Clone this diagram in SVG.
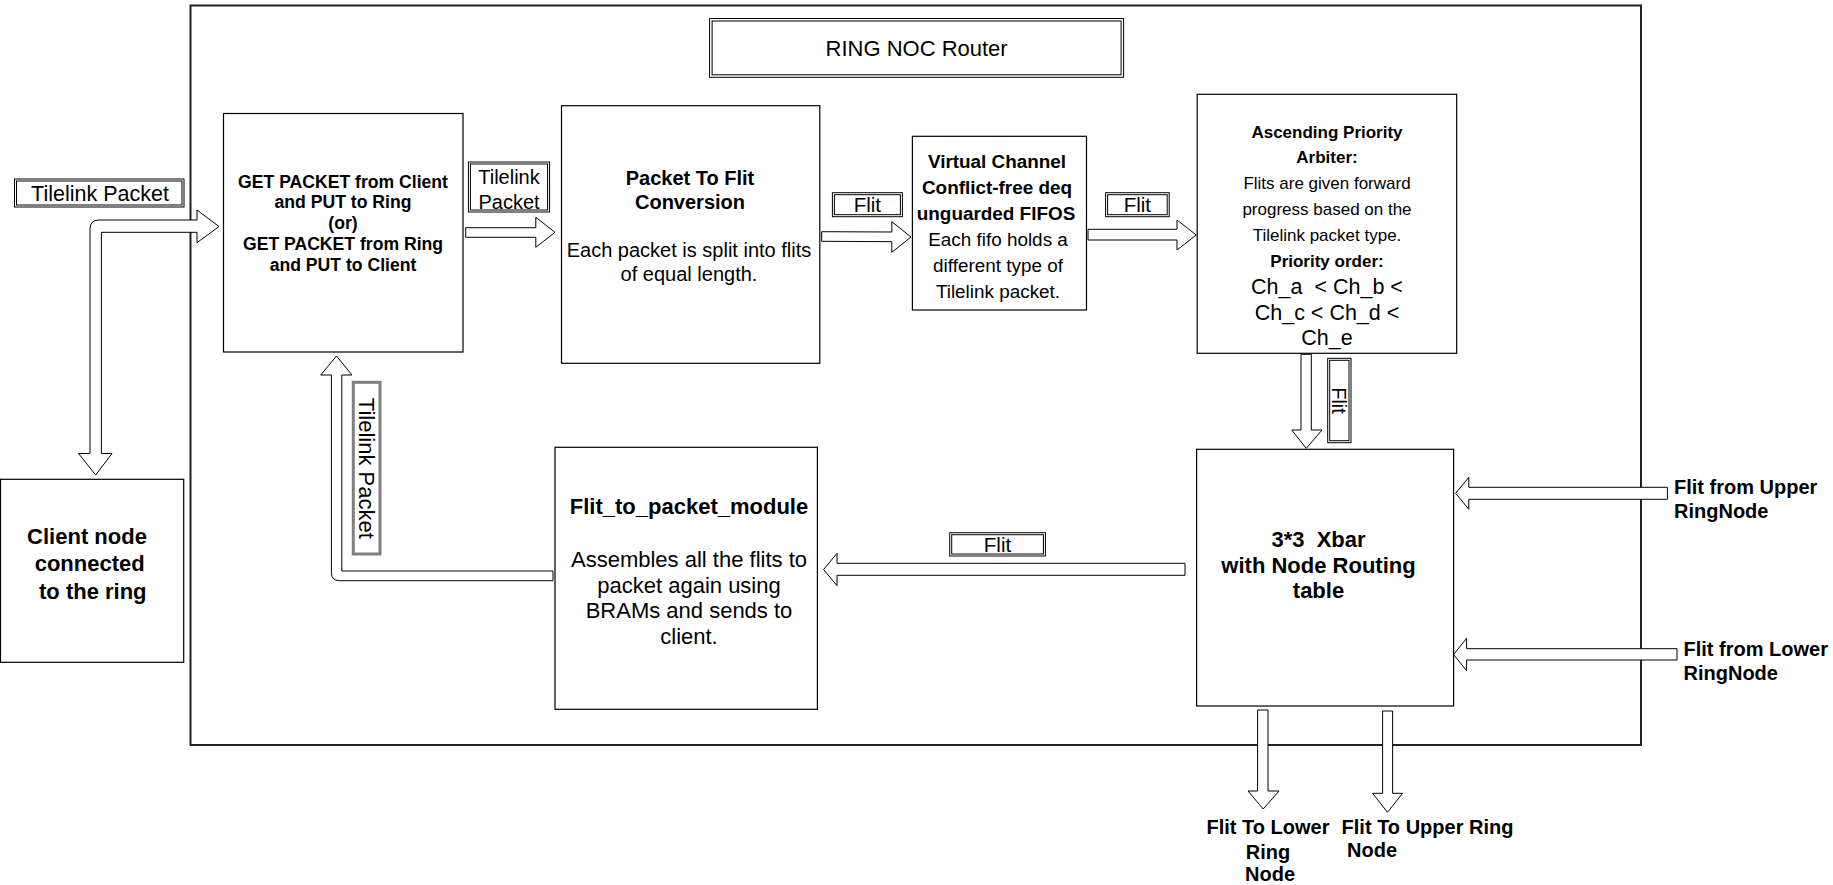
<svg xmlns="http://www.w3.org/2000/svg" width="1833" height="885" viewBox="0 0 1833 885">
<style>
text{font-family:"Liberation Sans",Arial,sans-serif;fill:#000}
.b{font-weight:bold}
.box{fill:#fff;stroke:#000;stroke-width:1.2}
.lbl{fill:#fff;stroke:#000;stroke-width:1}
.arr{fill:#fff;stroke:#000;stroke-width:1;stroke-linejoin:miter}
.c{text-anchor:middle}
</style>
<rect width="1833" height="885" fill="#fff"/>
<g id="frame"><rect x="190.5" y="5.5" width="1450.5" height="739.5" fill="none" stroke="#222" stroke-width="2"/></g>

<g id="title">
<rect class="lbl" x="709.6" y="18.5" width="414" height="58.8"/>
<rect class="lbl" x="712.1" y="21" width="409" height="53.8"/>
<text class="c" x="916.6" y="56" font-size="22">RING NOC Router</text>
</g>

<g id="connectors">
<path class="arr" d="M90,453.5 L90,229 Q90,220 99,220 L197,220 L197,210 L219,226.5 L197,242.7 L197,232.3 L101.4,232.3 L101.4,453.5 L112,453.5 L95.7,475 L78.5,453.5 Z"/>
<path class="arr" d="M465.7,227.7 L535.8,227.7 L535.8,217.3 L555,232.3 L535.8,247.3 L535.8,237.3 L465.7,237.3 Z"/>
<path class="arr" d="M821.7,231.7 L891.8,232 L891.8,221.7 L911,237 L891.8,252.3 L891.8,241.7 L821.7,241.3 Z"/>
<path class="arr" d="M1088,229.3 L1177,229.3 L1177,220 L1196.3,235 L1177,250 L1177,240 L1088,240 Z"/>
<path class="arr" d="M1301,354.3 L1311.3,354.3 L1311.3,430 L1322,430 L1306.3,448.3 L1291.7,430 L1301,430 Z"/>
<path class="arr" d="M553,571 L341.8,571 L341.8,375 L352,375 L336.5,356 L320.7,375 L331.4,375 L331.4,572.7 Q331.4,580.7 339.4,580.7 L553,580.7 Z"/>
<path class="arr" d="M1185,563.3 L837,563.3 L837,553.3 L823.6,569.5 L837,585.7 L837,575.3 L1185,575.3 Z"/>
<path class="arr" d="M1667.4,487.3 L1468.8,487.3 L1468.8,477.3 L1455.7,493.3 L1468.8,509.3 L1468.8,499.3 L1667.4,499.3 Z"/>
<path class="arr" d="M1677,648.7 L1466.6,648.7 L1466.6,638.3 L1453.6,654.5 L1466.6,670.7 L1466.6,660 L1677,660 Z"/>
<path class="arr" d="M1257.6,710 L1268,710 L1268,791 L1279,791 L1263.2,809 L1248,791 L1257.6,791 Z"/>
<path class="arr" d="M1382.6,711 L1392.6,711 L1392.6,793.3 L1402.6,793.3 L1387.5,812.3 L1372.6,793.3 L1382.6,793.3 Z"/>
</g>

<g id="labels">
<g id="lbl-tilelink-in">
<rect class="lbl" x="14.5" y="179" width="169.5" height="28"/>
<rect class="lbl" x="16.5" y="181" width="165.5" height="24"/>
<text class="c" x="100" y="201" font-size="21.5">Tilelink Packet</text>
</g>
<g id="lbl-tilelink-2">
<rect class="lbl" x="468.4" y="162" width="81.2" height="50"/>
<rect class="lbl" x="470.4" y="164" width="77.2" height="46"/>
<text class="c" x="509" y="183.7" font-size="20">Tilelink</text>
<text class="c" x="509" y="208.7" font-size="20">Packet</text>
</g>
<g id="lbl-flit-1">
<rect class="lbl" x="832.4" y="192.7" width="70" height="24"/>
<rect class="lbl" x="834.4" y="194.7" width="66" height="20"/>
<text class="c" x="867.4" y="212" font-size="20.5">Flit</text>
</g>
<g id="lbl-flit-2">
<rect class="lbl" x="1105.6" y="192.7" width="63.6" height="24"/>
<rect class="lbl" x="1107.6" y="194.7" width="59.6" height="20"/>
<text class="c" x="1137.4" y="212" font-size="20.5">Flit</text>
</g>
<g id="lbl-flit-3">
<rect class="lbl" x="1327.7" y="358.3" width="23.3" height="84.4"/>
<rect class="lbl" x="1329.7" y="360.3" width="19.3" height="80.4"/>
<text class="c" transform="translate(1339.4,400.5) rotate(90)" x="0" y="7" font-size="20">Flit</text>
</g>
<g id="lbl-tilelink-up">
<rect x="353.3" y="382.3" width="26.7" height="171.7" fill="#fff" stroke="#808080" stroke-width="3"/>
<text class="c" transform="translate(366.8,468.3) rotate(90)" x="0" y="7.7" font-size="22">Tilelink Packet</text>
</g>
<g id="lbl-flit-4">
<rect class="lbl" x="949.7" y="532.7" width="95.7" height="23.3"/>
<rect class="lbl" x="951.7" y="534.7" width="91.7" height="19.3"/>
<text class="c" x="997.5" y="551.5" font-size="20.5">Flit</text>
</g>
</g>

<g id="node-getpacket">
<rect class="box" x="223.5" y="113.5" width="239.5" height="238.5"/>
<text class="c b" x="343" y="187.8" font-size="17.6">GET PACKET from Client</text>
<text class="c b" x="343" y="208.4" font-size="17.6">and PUT to Ring</text>
<text class="c b" x="343" y="229.4" font-size="17.6">(or)</text>
<text class="c b" x="343" y="250.4" font-size="17.6">GET PACKET from Ring</text>
<text class="c b" x="343" y="271.1" font-size="17.6">and PUT to Client</text>
</g>

<g id="node-p2f">
<rect class="box" x="561.5" y="105.7" width="258.3" height="257.6"/>
<text class="c b" x="690" y="185.3" font-size="20">Packet To Flit</text>
<text class="c b" x="690" y="208.7" font-size="20">Conversion</text>
<text class="c" x="689" y="257" font-size="20">Each packet is split into flits</text>
<text class="c" x="689" y="281" font-size="20">of equal length.</text>
</g>

<g id="node-vc">
<rect class="box" x="912.4" y="136.3" width="174.1" height="173.7"/>
<text class="c b" x="997" y="168.3" font-size="18.9">Virtual Channel</text>
<text class="c b" x="997" y="194.3" font-size="18.9">Conflict-free deq</text>
<text class="c b" x="996" y="220" font-size="18.9">unguarded FIFOS</text>
<text class="c" x="998" y="246" font-size="18.9">Each fifo holds a</text>
<text class="c" x="998" y="272.3" font-size="18.9">different type of</text>
<text class="c" x="998" y="298.3" font-size="18.9">Tilelink packet.</text>
</g>

<g id="node-arbiter">
<rect class="box" x="1197.2" y="94.3" width="259.5" height="259"/>
<text class="c b" x="1327" y="137.7" font-size="17">Ascending Priority</text>
<text class="c b" x="1327" y="163.3" font-size="17">Arbiter:</text>
<text class="c" x="1327" y="189.3" font-size="17">Flits are given forward</text>
<text class="c" x="1327" y="215.3" font-size="17">progress based on the</text>
<text class="c" x="1327" y="241.3" font-size="17">Tilelink packet type.</text>
<text class="c b" x="1327" y="267" font-size="17">Priority order:</text>
<text class="c" x="1327" y="293.7" font-size="21.5">Ch_a &#160;&lt; Ch_b &lt;</text>
<text class="c" x="1327" y="320" font-size="21.5">Ch_c &lt; Ch_d &lt;</text>
<text class="c" x="1327" y="345.4" font-size="21.5">Ch_e</text>
</g>

<g id="node-xbar">
<rect class="box" x="1196.6" y="449.3" width="257" height="256.7"/>
<text class="c b" x="1318.5" y="546.7" font-size="22">3*3 &#160;Xbar</text>
<text class="c b" x="1318.5" y="573.4" font-size="22">with Node Routing</text>
<text class="c b" x="1318.5" y="598.4" font-size="22">table</text>
</g>

<g id="node-f2p">
<rect class="box" x="555" y="447.3" width="262.4" height="262"/>
<text class="c b" x="689" y="514.4" font-size="22">Flit_to_packet_module</text>
<text class="c" x="689" y="566.7" font-size="22">Assembles all the flits to</text>
<text class="c" x="689" y="592.7" font-size="22">packet again using</text>
<text class="c" x="689" y="618.4" font-size="22">BRAMs and sends to</text>
<text class="c" x="689" y="644.4" font-size="22">client.</text>
</g>

<g id="node-client">
<rect class="box" x="0.5" y="479.3" width="183.2" height="183"/>
<text class="c b" x="87" y="543.7" font-size="22">Client node</text>
<text class="c b" x="89.7" y="571" font-size="22">connected</text>
<text class="c b" x="92.8" y="599.4" font-size="22">to the ring</text>
</g>

<g id="ext-labels">
<text class="b" x="1674" y="493.7" font-size="20">Flit from Upper</text>
<text class="b" x="1674" y="517.7" font-size="20">RingNode</text>
<text class="b" x="1683.5" y="656.3" font-size="20">Flit from Lower</text>
<text class="b" x="1683.5" y="679.7" font-size="20">RingNode</text>
<text class="c b" x="1268" y="834.3" font-size="20">Flit To Lower</text>
<text class="c b" x="1268" y="859" font-size="20">Ring</text>
<text class="c b" x="1270" y="881" font-size="20">Node</text>
<text class="b" x="1341.6" y="834.3" font-size="20">Flit To Upper Ring</text>
<text class="b" x="1347" y="857" font-size="20">Node</text>
</g>
</svg>
